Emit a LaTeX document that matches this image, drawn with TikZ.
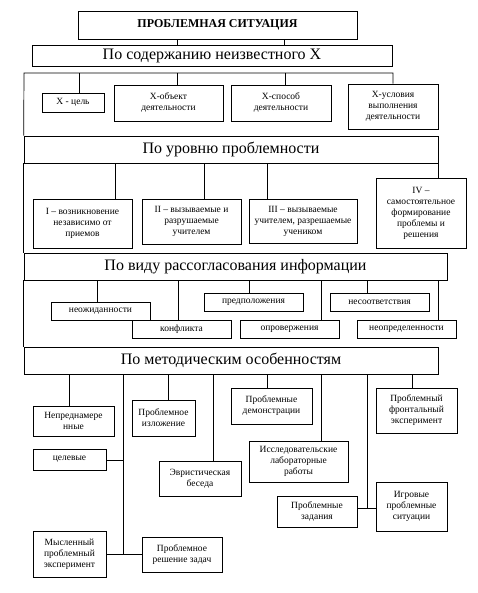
\documentclass[tikz,border=0pt]{standalone}
\usepackage{fontspec}
\setmainfont{Liberation Serif}

\begin{document}
\begin{tikzpicture}[x=1pt, y=-1pt, line width=.7pt,
  title/.style={draw, inner sep=0pt, font=\fontsize{12}{14}\selectfont\bfseries},
  head/.style={draw, inner sep=0pt, font=\fontsize{16}{18}\selectfont},
  item/.style={draw, inner sep=0pt, align=center, font=\fontsize{9.5}{11}\selectfont}]
  \useasboundingbox (0,0) rectangle (478,593);
  % Title and first criterion
  \node[title, minimum width=279pt, minimum height=28pt] (top) at (217.5,25) {ПРОБЛЕМНАЯ СИТУАЦИЯ};
  \node[head, minimum width=360pt, minimum height=21pt] (hdrA) at (212,55.5) {По содержанию неизвестного Х};
  \draw (top.south -| 177,0) -- (hdrA.north -| 177,0);
  \draw (top.south -| 284,0) -- (hdrA.north -| 284,0);
  % Content of the unknown X
  \node[item, minimum width=62pt, minimum height=19pt] (celX) at (73,102.5) {Х - цель};
  \node[item, minimum width=109pt, minimum height=36pt] (objX) at (168.5,103) {Х-объект\\деятельности};
  \node[item, minimum width=100pt, minimum height=36pt] (spX) at (281,103) {Х-способ\\деятельности};
  \node[item, minimum width=90pt, minimum height=45pt] (uslX) at (393,106.5) {Х-условия\\выполнения\\деятельности};
  % Level of problem
  \node[head, minimum width=414pt, minimum height=27pt] (hdrB) at (231,149.5) {По уровню проблемности};
  \coordinate (frameL) at (24,73);
  \coordinate (frameR) at (393,73);
  \draw (uslX.north) -- (frameR) -- (frameL) -- (hdrB.north west);
  \foreach \xx/\to in {79/celX, 177/objX, 285/spX}
    \draw (frameL -| \xx,0) -- (\to.north -| \xx,0);
  \node[item, minimum width=99pt, minimum height=49pt] (lvlA) at (82.5,223.5) {I – возникновение\\независимо от\\приемов};
  \node[item, minimum width=99pt, minimum height=45pt] (lvlB) at (191.5,221.5) {II – вызываемые и\\разрушаемые\\учителем};
  \node[item, minimum width=108pt, minimum height=44pt] (lvlC) at (303,221) {III – вызываемые\\учителем, разрешаемые\\учеником};
  \node[item, minimum width=90pt, minimum height=70pt] (lvlD) at (421,213) {IV –\\самостоятельное\\формирование\\проблемы и\\решения};
  \foreach \xx/\to in {115/lvlA, 204/lvlB, 267/lvlC, 438/lvlD}
    \draw (hdrB.south -| \xx,0) -- (\to.north -| \xx,0);
  % Kind of mismatch of information
  \node[head, minimum width=423pt, minimum height=27pt] (hdrC) at (235.5,266.5) {По виду рассогласования информации};
  \draw (hdrB.south west) -- (hdrC.north west);
  \node[item, minimum width=99pt, minimum height=18pt] (nezh) at (100.5,311) {неожиданности};
  \node[item, minimum width=99pt, minimum height=18pt] (konf) at (181.5,329) {конфликта};
  \node[item, minimum width=99pt, minimum height=18pt] (pred) at (253.5,302) {предположения};
  \node[item, minimum width=99pt, minimum height=18pt] (opr) at (289.5,329) {опровержения};
  \node[item, minimum width=99pt, minimum height=18pt] (nesoot) at (379.5,302) {несоответствия};
  \node[item, minimum width=99pt, minimum height=18pt] (neopr) at (406.5,329) {неопределенности};
  \foreach \xx/\to in {97/nezh, 178/konf, 249/pred, 321/opr, 367/nesoot, 438/neopr}
    \draw (hdrC.south -| \xx,0) -- (\to.north -| \xx,0);
  % Methodical features
  \node[head, minimum width=414pt, minimum height=27pt] (hdrD) at (231,360.5) {По методическим особенностям};
  \draw (hdrC.south west) -- (hdrD.north west);
  \node[item, minimum width=81pt, minimum height=30pt] (neprd) at (73.5,421) {Непреднамере\\нные};
  \node[item, minimum width=63pt, minimum height=36pt] (izl) at (163.5,418) {Проблемное\\изложение};
  \node[item, minimum width=81pt, minimum height=36pt] (demo) at (271.5,406) {Проблемные\\демонстрации};
  \node[item, minimum width=81pt, minimum height=45pt] (front) at (416.5,410.5) {Проблемный\\фронтальный\\эксперимент};
  \node[item, minimum width=73pt, minimum height=21pt] (cel) at (69.5,459.5) {целевые};
  \node[item, minimum width=99pt, minimum height=41pt] (issl) at (298.5,461.5) {Исследовательские\\лабораторные\\работы};
  \node[item, minimum width=82pt, minimum height=35pt] (evr) at (200,478.5) {Эвристическая\\беседа};
  \node[item, minimum width=80pt, minimum height=31pt] (zad) at (317,511.5) {Проблемные\\задания};
  \node[item, minimum width=71pt, minimum height=49pt] (igr) at (411.5,506.5) {Игровые\\проблемные\\ситуации};
  \node[item, minimum width=73pt, minimum height=46pt] (mysl) at (69.5,554) {Мысленный\\проблемный\\эксперимент};
  \node[item, minimum width=80pt, minimum height=35pt] (resh) at (182,554.5) {Проблемное\\решение задач};
  \foreach \xx/\to in {69/neprd, 168/izl, 213/evr, 267/demo, 321/issl, 412/front}
    \draw (hdrD.south -| \xx,0) -- (\to.north -| \xx,0);
  % Long branches
  \coordinate (spineA) at (123,554);
  \coordinate (spineB) at (367,508);
  \draw (hdrD.south -| spineA) -- (spineA);
  \draw (cel.east |- 0,460) -- (spineA |- 0,460);
  \draw (mysl.east |- spineA) -- (resh.west |- spineA);
  \draw (hdrD.south -| spineB) -- (spineB);
  \draw (zad.east |- spineB) -- (igr.west |- spineB);
\end{tikzpicture}
\end{document}
